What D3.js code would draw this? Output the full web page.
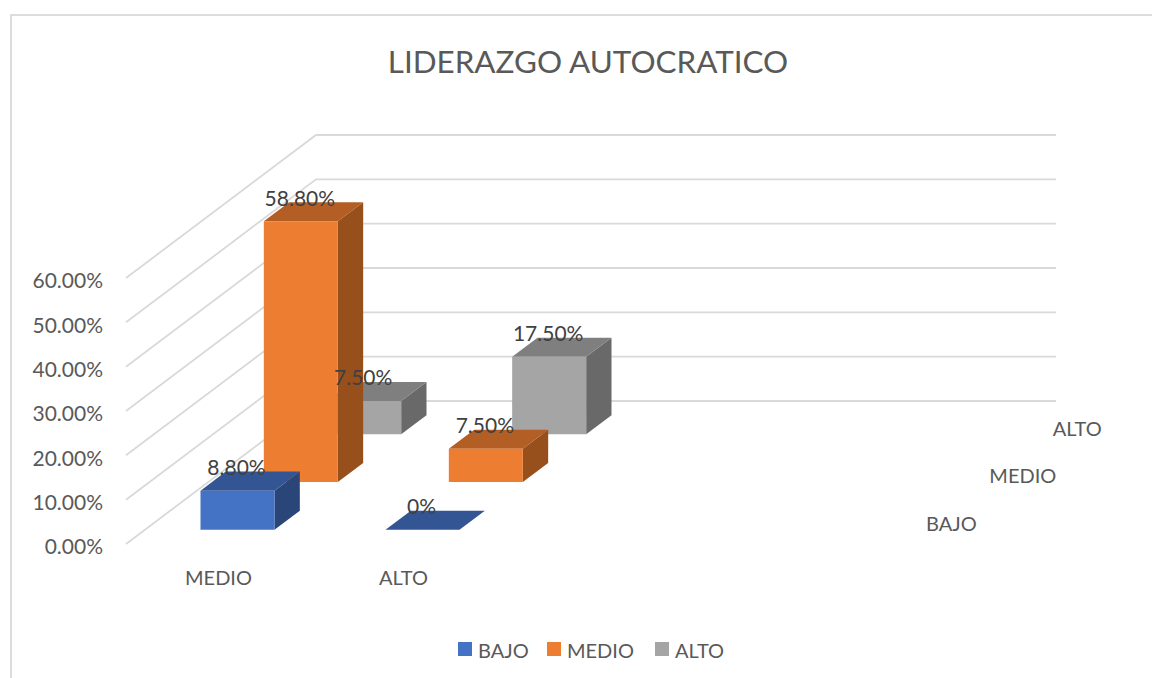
<!DOCTYPE html>
<html>
<head>
<meta charset="utf-8">
<script src="https://cdn.jsdelivr.net/npm/d3@7"></script>
<style>
  html, body { margin: 0; padding: 0; background: #fff; }
  svg { display: block; font-family: Lato, sans-serif; }
</style>
</head>
<body>
<svg id="chart" width="1152" height="678"></svg>
<script>
const title = "LIDERAZGO AUTOCRATICO";
const categories = ["MEDIO", "ALTO", "", ""];
const seriesNames = ["BAJO", "MEDIO", "ALTO"];
const bajoValues = [8.8, 0];
const medioValues = [58.8, 7.5];
const altoValues = [7.5, 17.5];
const bajoLabels = ["8.80%", "0%"];
const medioLabels = ["58.80%", "7.50%"];
const altoLabels = ["7.50%", "17.50%"];
const yTicks = [0, 10, 20, 30, 40, 50, 60];

const faceColors = {
  BAJO: { front: "#4472c4", top: "#335593", side: "#2a4679" },
  MEDIO: { front: "#ed7d31", top: "#b25e25", side: "#974f1c" },
  ALTO: { front: "#a5a5a5", top: "#7f7f7f", side: "#696969" },
};

const svg = d3.select("#chart");

// floor of the 3d box: front left corner and how far the depth axis runs
const origin = { x: 126, y: 544 };
const depth = { x: 190, y: -143 };

// the two blank categories repeat, so the band scale goes by index
const x = d3.scaleBand().domain(d3.range(categories.length)).range([0, 740]);
const z = d3.scaleBand().domain(seriesNames).range([0, 1]);
const y = d3.scaleLinear().domain([0, 60]).range([0, 266]);

const project = (px, pz, py) => [
  origin.x + px + pz * depth.x,
  origin.y + pz * depth.y - py,
];

const face = pts => `M${pts.map(p => p.join(",")).join("L")}Z`;

svg.append("rect")
  .attr("x", 11)
  .attr("y", 15)
  .attr("width", 1200)
  .attr("height", 800)
  .attr("fill", "none")
  .attr("stroke", "#d9d9d9")
  .attr("stroke-width", 1.8);

svg.append("text")
  .text(title)
  .attr("x", 588)
  .attr("y", 73)
  .attr("text-anchor", "middle")
  .attr("fill", "#595959")
  .style("font-size", "31.4px");

svg.append("g")
  .selectAll("path")
  .data(yTicks)
  .join("path")
  .attr("d", d => {
    const a = project(0, 0, y(d));
    const b = project(0, 1, y(d));
    const c = project(740, 1, y(d));
    return `M${a}L${b}L${c}`;
  })
  .attr("fill", "none")
  .attr("stroke", "#d9d9d9")
  .attr("stroke-width", 1.8);

svg.append("g")
  .selectAll("text")
  .data(yTicks)
  .join("text")
  .text(d => `${d.toFixed(2)}%`)
  .attr("x", 103)
  .attr("y", d => origin.y - y(d) + 3)
  .attr("dy", "0.35em")
  .attr("text-anchor", "end")
  .attr("fill", "#595959")
  .style("font-size", "21px");

svg.append("g")
  .selectAll("text")
  .data(categories.slice(0, 2))
  .join("text")
  .text(d => d)
  .attr("x", (d, i) => origin.x + x(i) + x.bandwidth() / 2)
  .attr("y", 578)
  .attr("dy", "0.35em")
  .attr("text-anchor", "middle")
  .attr("fill", "#595959")
  .style("font-size", "20px");

svg.append("g")
  .selectAll("text")
  .data(seriesNames)
  .join("text")
  .text(d => d)
  .attr("x", d => project(740, z(d), 0)[0] + 60)
  .attr("y", d => project(740, z(d), 0)[1] - 20)
  .attr("dy", "0.35em")
  .attr("fill", "#595959")
  .style("font-size", "20px");

const valuesBySeries = { BAJO: bajoValues, MEDIO: medioValues, ALTO: altoValues };
const labelsBySeries = { BAJO: bajoLabels, MEDIO: medioLabels, ALTO: altoLabels };
const bars = [];
seriesNames.forEach(name => {
  valuesBySeries[name].forEach((value, i) => {
    bars.push({ name, cat: i, value, label: labelsBySeries[name][i] });
  });
});

// bars fill the middle 40% of each band, back series has to be painted first
const inset = 0.3;
const barX = d => x(d.cat) + inset * x.bandwidth();
const barW = (1 - 2 * inset) * x.bandwidth();
const barZ = d => z(d.name) + inset * z.bandwidth();
const barD = (1 - 2 * inset) * z.bandwidth();

const drawOrder = bars.slice().sort((a, b) =>
  seriesNames.indexOf(b.name) - seriesNames.indexOf(a.name));

const bar = svg.append("g")
  .selectAll("g")
  .data(drawOrder)
  .join("g");

bar.append("path")
  .attr("d", d => face([
    project(barX(d) + barW, barZ(d), 0),
    project(barX(d) + barW, barZ(d) + barD, 0),
    project(barX(d) + barW, barZ(d) + barD, y(d.value)),
    project(barX(d) + barW, barZ(d), y(d.value)),
  ]))
  .attr("fill", d => faceColors[d.name].side);

bar.append("path")
  .attr("d", d => face([
    project(barX(d), barZ(d), y(d.value)),
    project(barX(d) + barW, barZ(d), y(d.value)),
    project(barX(d) + barW, barZ(d) + barD, y(d.value)),
    project(barX(d), barZ(d) + barD, y(d.value)),
  ]))
  .attr("fill", d => faceColors[d.name].top);

bar.append("path")
  .attr("d", d => face([
    project(barX(d), barZ(d), 0),
    project(barX(d) + barW, barZ(d), 0),
    project(barX(d) + barW, barZ(d), y(d.value)),
    project(barX(d), barZ(d), y(d.value)),
  ]))
  .attr("fill", d => faceColors[d.name].front);

svg.append("g")
  .selectAll("text")
  .data(drawOrder)
  .join("text")
  .text(d => d.label)
  .attr("x", d => project(barX(d) + barW / 2, barZ(d), 0)[0] - 1)
  .attr("y", d => project(0, barZ(d), y(d.value))[1] - 23)
  .attr("dy", "0.35em")
  .attr("text-anchor", "middle")
  .attr("fill", "#404040")
  .style("font-size", "21px");

const legendX = d3.scaleOrdinal().domain(seriesNames).range([458, 547, 655]);

const legend = svg.append("g")
  .selectAll("g")
  .data(seriesNames)
  .join("g")
  .attr("transform", d => `translate(${legendX(d)},642)`);

legend.append("rect")
  .attr("width", 14)
  .attr("height", 14)
  .attr("fill", d => faceColors[d].front);

legend.append("text")
  .text(d => d)
  .attr("x", 20)
  .attr("y", 9)
  .attr("dy", "0.35em")
  .attr("fill", "#595959")
  .style("font-size", "20px");
</script>
</body>
</html>
